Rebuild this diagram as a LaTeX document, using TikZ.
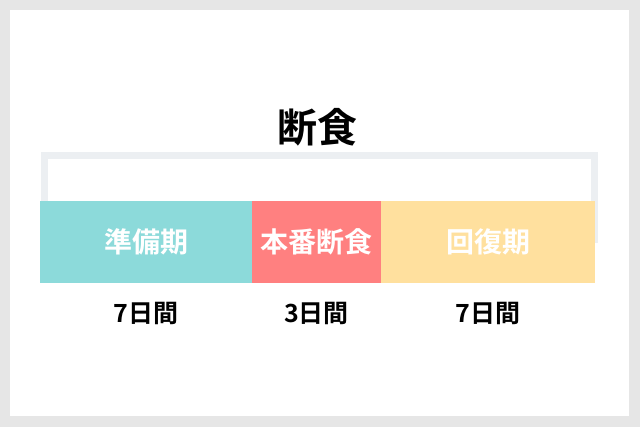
\documentclass[tikz,border=0pt]{standalone}
\usepackage{fontspec}
\setmainfont{Noto Sans CJK JP}[BoldFont={Noto Sans CJK JP Bold}]
\usetikzlibrary{positioning}
\definecolor{framegray}{RGB}{230,230,230}
\definecolor{bracketgray}{RGB}{236,239,242}
\definecolor{prepteal}{RGB}{140,218,218}
\definecolor{mainred}{RGB}{255,128,128}
\definecolor{recyellow}{RGB}{255,224,158}
\begin{document}
\begin{tikzpicture}[x=1pt,y=-1pt,
   phase/.style={minimum height=82pt,inner sep=0pt,outer sep=0pt,text=white,
     font=\bfseries\fontsize{28}{28}\selectfont},
   days/.style={inner sep=0pt,font=\bfseries\fontsize{25}{25}\selectfont}]
   % 背景
   \fill[framegray] (0,0) rectangle (640,427);
   \fill[white] (10,10) rectangle (629,416);

   % タイトル
   \node [font=\bfseries\fontsize{40}{40}\selectfont] (title) at (317,127) {断食};

   % 括弧
   \draw [bracketgray,line width=7pt] (44.5,243) -- (44.5,155.5) -- (594.5,155.5) -- (594.5,243);

   % 期間
   \node [phase,fill=prepteal,minimum width=212pt,anchor=north west] (prep) at (40,201) {準備期};
   \node [phase,fill=mainred,minimum width=129pt,right=0pt of prep] (main) {本番断食};
   \node [phase,fill=recyellow,minimum width=214pt,right=0pt of main] (rec) {回復期};

   % 日数
   \node [days] (prepdays) at ([yshift=-30pt]prep.south) {7日間};
   \node [days] (maindays) at ([yshift=-30pt]main.south) {3日間};
   \node [days] (recdays) at ([yshift=-30pt]rec.south) {7日間};
\end{tikzpicture}
\end{document}
